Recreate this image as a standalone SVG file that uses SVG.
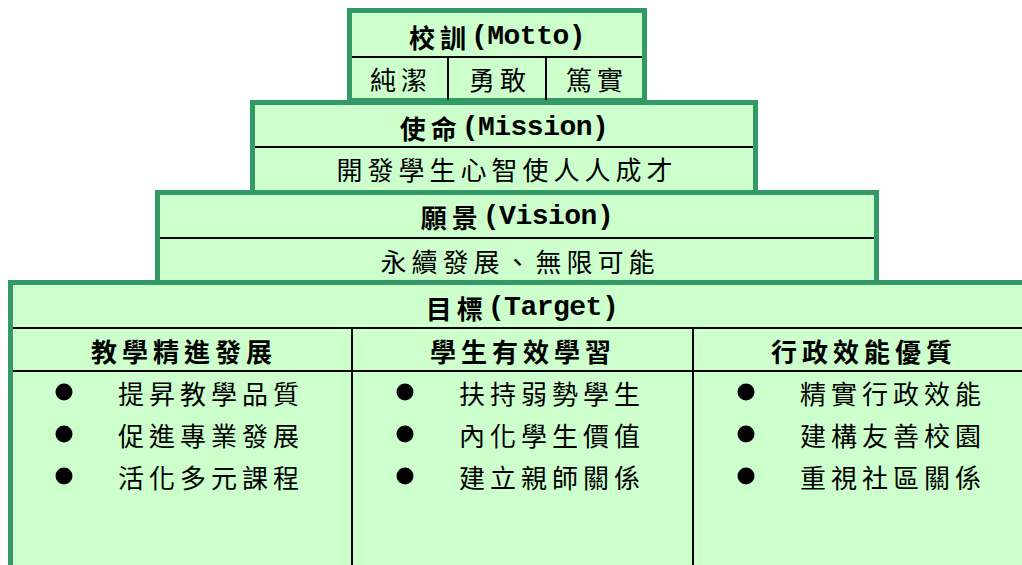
<svg xmlns="http://www.w3.org/2000/svg" width="1022" height="565" viewBox="0 0 1022 565">
<style>
.box{fill:#CCFFCC;stroke:#339966;stroke-width:5}
.ln{stroke:#000;stroke-width:2;fill:none}
.t{font-family:"Noto Sans CJK TC","Noto Sans CJK SC",sans-serif;font-size:26px;fill:#000;letter-spacing:5px}
.h{font-weight:bold}
.lat{font-family:"Liberation Mono",monospace;font-size:28px;letter-spacing:-0.5px}
.b{fill:#000}
</style>
<rect x="0" y="0" width="1022" height="565" fill="#fff"/>
<g id="connectors"></g>
<g id="target">
<rect class="box" x="10.5" y="282.5" width="1040" height="320"/>
<line class="ln" x1="13" y1="328" x2="1022" y2="328"/>
<line class="ln" x1="13" y1="371" x2="1022" y2="371"/>
<line class="ln" x1="352" y1="328" x2="352" y2="565"/>
<line class="ln" x1="693" y1="328" x2="693" y2="565"/>
<text class="t h" x="522" y="307" text-anchor="middle" dominant-baseline="central">目標<tspan class="lat">(Target)</tspan></text>
</g>
<g id="col-teaching">
<text class="t h" x="184" y="350" text-anchor="middle" dominant-baseline="central">教學精進發展</text>
<circle class="b" cx="64" cy="392" r="8.5"/>
<circle class="b" cx="64" cy="434" r="8.5"/>
<circle class="b" cx="64" cy="476" r="8.5"/>
<text class="t" x="118" y="392" dominant-baseline="central">提昇教學品質</text>
<text class="t" x="118" y="434" dominant-baseline="central">促進專業發展</text>
<text class="t" x="118" y="476" dominant-baseline="central">活化多元課程</text>
</g>
<g id="col-students">
<text class="t h" x="523" y="350" text-anchor="middle" dominant-baseline="central">學生有效學習</text>
<circle class="b" cx="405" cy="392" r="8.5"/>
<circle class="b" cx="405" cy="434" r="8.5"/>
<circle class="b" cx="405" cy="476" r="8.5"/>
<text class="t" x="459" y="392" dominant-baseline="central">扶持弱勢學生</text>
<text class="t" x="459" y="434" dominant-baseline="central">內化學生價值</text>
<text class="t" x="459" y="476" dominant-baseline="central">建立親師關係</text>
</g>
<g id="col-admin">
<text class="t h" x="864" y="350" text-anchor="middle" dominant-baseline="central">行政效能優質</text>
<circle class="b" cx="746" cy="392" r="8.5"/>
<circle class="b" cx="746" cy="434" r="8.5"/>
<circle class="b" cx="746" cy="476" r="8.5"/>
<text class="t" x="800" y="392" dominant-baseline="central">精實行政效能</text>
<text class="t" x="800" y="434" dominant-baseline="central">建構友善校園</text>
<text class="t" x="800" y="476" dominant-baseline="central">重視社區關係</text>
</g>
<g id="vision">
<rect class="box" x="157.5" y="192.5" width="719" height="90"/>
<line class="ln" x1="160" y1="238" x2="874" y2="238"/>
<text class="t h" x="517" y="216" text-anchor="middle" dominant-baseline="central">願景<tspan class="lat">(Vision)</tspan></text>
<text class="t" x="520" y="260" text-anchor="middle" dominant-baseline="central">永續發展、無限可能</text>
</g>
<g id="mission">
<rect class="box" x="252.5" y="102.5" width="503" height="90"/>
<line class="ln" x1="255" y1="147" x2="753" y2="147"/>
<text class="t h" x="504" y="127" text-anchor="middle" dominant-baseline="central">使命<tspan class="lat">(Mission)</tspan></text>
<text class="t" x="507" y="168" text-anchor="middle" dominant-baseline="central">開發學生心智使人人成才</text>
</g>
<g id="motto">
<rect class="box" x="349.5" y="10.5" width="295" height="90"/>
<line class="ln" x1="352" y1="57" x2="642" y2="57"/>
<line class="ln" x1="448" y1="57" x2="448" y2="100"/>
<line class="ln" x1="546" y1="57" x2="546" y2="100"/>
<text class="t h" x="497" y="36" text-anchor="middle" dominant-baseline="central">校訓<tspan class="lat">(Motto)</tspan></text>
<text class="t" x="401" y="78" text-anchor="middle" dominant-baseline="central">純潔</text>
<text class="t" x="500" y="78" text-anchor="middle" dominant-baseline="central">勇敢</text>
<text class="t" x="597" y="78" text-anchor="middle" dominant-baseline="central">篤實</text>
</g>
</svg>
